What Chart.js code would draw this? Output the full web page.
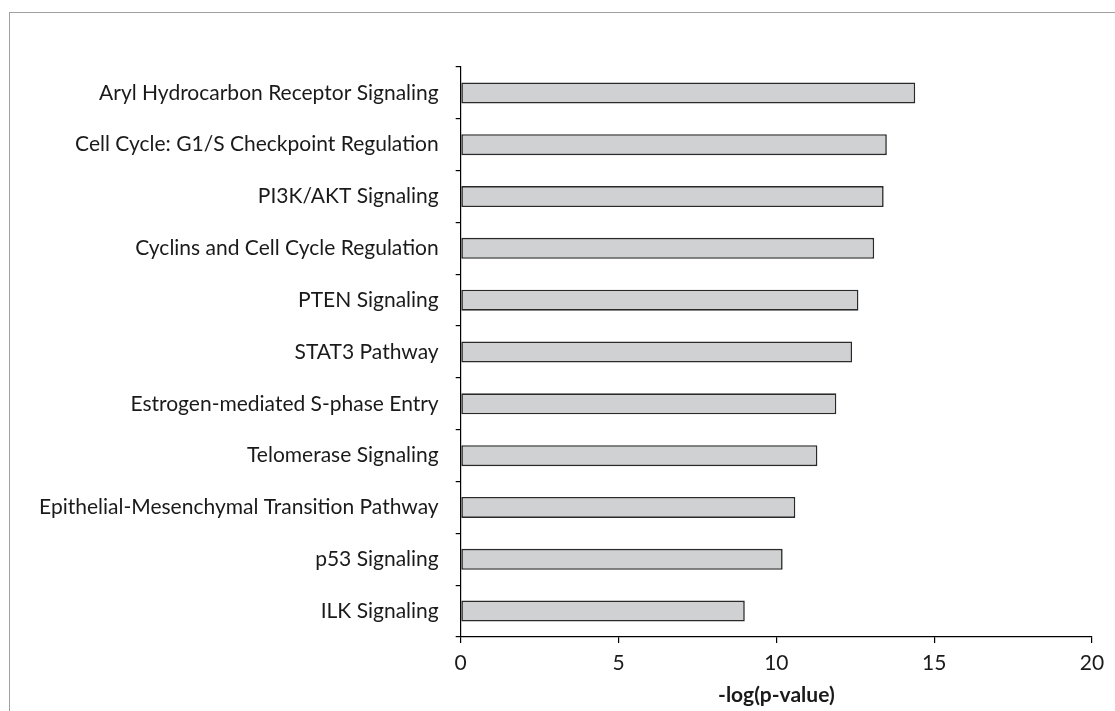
<!DOCTYPE html>
<html>
<head>
<meta charset="utf-8">
<script src="https://cdn.jsdelivr.net/npm/chart.js@4/dist/chart.umd.min.js"></script>
<style>
  html, body { margin: 0; padding: 0; background: #fff; }
  #wrap { position: relative; width: 1115px; height: 711px; overflow: hidden; }
  #frame { position: absolute; left: 9px; top: 12px; width: 1200px; height: 800px;
           border-top: 1.5px solid #a0a0a0; border-left: 1.5px solid #a0a0a0; box-sizing: border-box; }
  canvas { position: absolute; left: 0; top: 0; }
</style>
</head>
<body>
<div id="wrap">
  <div id="frame"></div>
  <canvas id="c" width="1115" height="711"></canvas>
</div>
<script>
const categories = [
  "Aryl Hydrocarbon Receptor Signaling",
  "Cell Cycle: G1/S Checkpoint Regulation",
  "PI3K/AKT Signaling",
  "Cyclins and Cell Cycle Regulation",
  "PTEN Signaling",
  "STAT3 Pathway",
  "Estrogen-mediated S-phase Entry",
  "Telomerase Signaling",
  "Epithelial-Mesenchymal Transition Pathway",
  "p53 Signaling",
  "ILK Signaling"
];
const values = [14.4, 13.5, 13.4, 13.1, 12.6, 12.4, 11.9, 11.3, 10.6, 10.2, 9.0];
const xTicks = [0, 5, 10, 15, 20];
const xTitle = "-log(p-value)";

const FONT = "Lato, 'Open Sans', sans-serif";

new Chart(document.getElementById('c'), {
  type: 'bar',
  data: {
    labels: categories,
    datasets: [{
      data: values,
      backgroundColor: '#d0d1d3',
      borderColor: '#2a2a2a',
      borderWidth: 1.6,
      borderSkipped: false,
      barPercentage: 0.405,
      categoryPercentage: 1.0
    }]
  },
  options: {
    indexAxis: 'y',
    responsive: false,
    animation: false,
    layout: { padding: { top: 67, right: 23, left: 0, bottom: 0 } },
    plugins: { legend: { display: false }, tooltip: { enabled: false } },
    scales: {
      x: {
        min: 0, max: 20,
        afterBuildTicks: (s) => { s.ticks = xTicks.map(v => ({ value: v })); },
        afterFit: (s) => { s.height = 74; },
        grid: { drawOnChartArea: false, drawTicks: true, tickLength: 6, color: '#000', lineWidth: 1.2 },
        border: { display: true, color: '#000', width: 1.2 },
        ticks: { color: '#1a1a1a', font: { family: FONT, size: 21 }, padding: 8 },
        title: { display: true, text: xTitle, color: '#1a1a1a',
                 font: { family: FONT, size: 21, weight: 'bold' }, padding: { top: 2, bottom: 3 } }
      },
      y: {
        afterFit: (s) => { s.width = 460.7; },
        grid: { drawOnChartArea: false, drawTicks: true, tickLength: 5, color: '#000', lineWidth: 1.2, offset: true },
        border: { display: true, color: '#000', width: 1.2 },
        ticks: { color: '#1a1a1a', font: { family: FONT, size: 21 }, padding: 17 }
      }
    }
  }
});
</script>
</body>
</html>
